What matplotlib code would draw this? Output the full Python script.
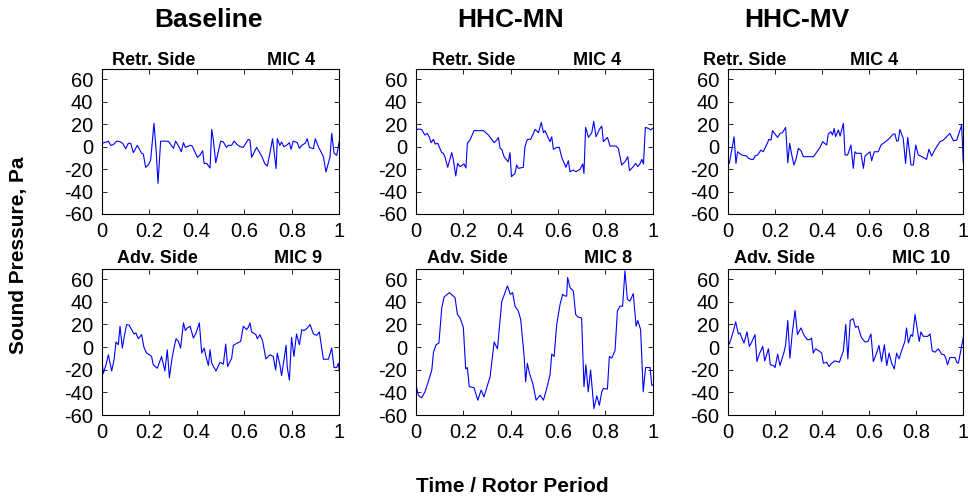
import matplotlib
matplotlib.use("Agg")
import matplotlib.pyplot as plt

plt.rcParams['font.family'] = ['Liberation Sans', 'DejaVu Sans']
plt.rcParams['axes.unicode_minus'] = False

# ---------------- data ----------------
column_titles = ["Baseline", "HHC-MN", "HHC-MV"]
side_labels = ["Retr. Side", "Adv. Side"]
mic_labels = [["MIC 4", "MIC 4", "MIC 4"], ["MIC 9", "MIC 8", "MIC 10"]]
x_ticks = [0, 0.2, 0.4, 0.6, 0.8, 1]
x_tick_labels = ["0", "0.2", "0.4", "0.6", "0.8", "1"]
y_ticks = [-60, -40, -20, 0, 20, 40, 60]
y_tick_labels = ["-60", "-40", "-20", "0", "20", "40", "60"]

base_retr_t = [0.000, 0.021, 0.028, 0.038, 0.049, 0.063, 0.077, 0.088, 0.101, 0.112, 0.122, 0.133,
               0.150, 0.168, 0.175, 0.185, 0.196, 0.206, 0.220, 0.229, 0.237, 0.248, 0.259, 0.281,
               0.302, 0.311, 0.325, 0.335, 0.344, 0.352, 0.372, 0.381, 0.403, 0.414, 0.425, 0.431,
               0.442, 0.456, 0.463, 0.470, 0.480, 0.501, 0.512, 0.525, 0.533, 0.547, 0.557, 0.568,
               0.582, 0.596, 0.617, 0.624, 0.631, 0.652, 0.673, 0.687, 0.697, 0.708, 0.719, 0.734,
               0.739, 0.750, 0.757, 0.767, 0.778, 0.790, 0.797, 0.806, 0.823, 0.832, 0.842, 0.856,
               0.865, 0.874, 0.891, 0.899, 0.912, 0.933, 0.944, 0.961, 0.968, 0.978, 0.989, 1.000]
base_retr_p = [3.0, 4.2, 5.0, 1.2, 1.8, 5.0, 4.5, 3.0, -1.8, 3.0, 3.0, -5.3,
               1.2, -5.9, -6.5, -18.4, -16.3, -11.9, 20.8, -3.0, -32.7, 4.8, 5.0, 4.8,
               -1.5, 5.0, 0.0, -4.5, 3.6, -0.6, 1.2, 0.6, -9.5, -7.4, -3.6, -14.9,
               -14.9, -19.0, 15.4, 5.9, -14.3, 5.0, 4.2, -0.6, 1.2, 1.2, 5.0, 2.4,
               0.0, -0.6, 6.5, 5.9, -9.5, -0.6, -8.3, -15.4, -17.2, -5.9, 7.1, -19.6,
               7.1, 1.2, 4.2, 0.0, 1.2, 3.6, -2.4, 5.0, 3.6, -1.5, 1.2, 3.0,
               7.1, -0.6, -1.8, 7.1, 0.0, -8.9, -22.6, -8.9, 11.9, -5.9, -7.7, 4.8]

mn_retr_t = [0.000, 0.011, 0.025, 0.039, 0.049, 0.058, 0.065, 0.075, 0.082, 0.093, 0.110, 0.117,
             0.124, 0.135, 0.152, 0.159, 0.169, 0.177, 0.187, 0.204, 0.212, 0.218, 0.229, 0.246,
             0.286, 0.307, 0.331, 0.342, 0.349, 0.356, 0.363, 0.373, 0.384, 0.390, 0.398, 0.404,
             0.419, 0.426, 0.433, 0.454, 0.461, 0.471, 0.485, 0.504, 0.518, 0.530, 0.539, 0.546,
             0.560, 0.567, 0.574, 0.581, 0.595, 0.606, 0.616, 0.634, 0.644, 0.651, 0.665, 0.676,
             0.693, 0.705, 0.710, 0.717, 0.729, 0.743, 0.751, 0.761, 0.775, 0.785, 0.792, 0.809,
             0.820, 0.845, 0.855, 0.869, 0.883, 0.895, 0.902, 0.918, 0.928, 0.937, 0.947, 0.954,
             0.961, 0.969, 0.982, 0.992, 1.000]
mn_retr_p = [14.9, 15.7, 15.4, 10.4, 11.9, 8.3, 3.6, 6.5, 2.4, 3.0, -5.3, -5.9,
             -9.5, -18.4, -5.3, -11.9, -26.1, -14.9, -17.8, -15.4, -19.0, 3.0, 5.9, 14.3,
             14.3, 10.4, 3.6, 5.9, 8.3, -1.5, -2.4, -8.9, -11.9, -13.4, -5.3, -26.7,
             -23.8, -16.3, -19.3, -18.4, 0.0, 6.5, 6.5, 15.4, 12.5, 21.7, 12.5, 14.3,
             7.4, 4.5, 8.9, -2.4, -0.6, -0.6, -9.5, -18.4, -12.5, -22.3, -20.8, -22.3,
             -20.2, -15.4, -23.8, 17.2, 8.3, 12.5, 22.6, 8.9, 15.4, 18.4, 4.5, 8.3,
             0.6, 0.6, -1.5, -16.3, -13.4, -8.9, -21.4, -17.8, -14.9, -17.8, -14.9, -11.3,
             -15.4, 17.2, 16.3, 14.9, 16.3]

mv_retr_t = [0.000, 0.007, 0.017, 0.027, 0.035, 0.042, 0.059, 0.081, 0.088, 0.099, 0.109, 0.116,
             0.127, 0.141, 0.151, 0.165, 0.175, 0.184, 0.190, 0.201, 0.212, 0.222, 0.232, 0.246,
             0.255, 0.263, 0.272, 0.281, 0.289, 0.300, 0.311, 0.321, 0.364, 0.382, 0.392, 0.403,
             0.420, 0.427, 0.438, 0.445, 0.452, 0.458, 0.470, 0.477, 0.491, 0.498, 0.509, 0.523,
             0.533, 0.540, 0.547, 0.566, 0.576, 0.583, 0.604, 0.611, 0.622, 0.639, 0.651, 0.682,
             0.703, 0.710, 0.717, 0.724, 0.731, 0.745, 0.755, 0.764, 0.769, 0.778, 0.788, 0.798,
             0.809, 0.830, 0.844, 0.854, 0.866, 0.880, 0.901, 0.915, 0.929, 0.943, 0.958, 0.972,
             0.993, 1.000]
mv_retr_p = [-10.4, -14.9, -3.0, 8.9, -14.9, -4.5, -7.4, -8.3, -10.4, -11.3, -11.3, -8.3,
             -7.4, -3.0, -4.5, 1.5, 6.5, 5.9, 14.3, 11.3, 8.3, 11.9, 12.5, 17.2,
             -14.3, 3.0, -7.4, -16.3, -11.9, -1.5, -3.6, -8.9, -8.9, -3.6, -0.6, 4.5,
             1.5, 11.3, 13.4, 10.4, 16.3, 8.9, 14.9, 9.5, 20.8, -7.4, -7.4, 1.5,
             -19.3, -4.5, -5.9, -5.9, -19.3, -8.3, -4.5, -12.5, -4.5, -4.5, 1.5, 6.5,
             11.3, 11.3, 5.0, 5.3, 15.4, 7.4, -14.9, 8.3, 0.0, -16.3, -16.3, 1.5,
             -7.4, -9.5, -11.3, -2.4, -8.3, -2.4, 4.5, 5.9, 8.9, 11.9, 5.3, 5.9,
             19.3, -14.3]

base_adv_t = [0.000, 0.007, 0.018, 0.028, 0.042, 0.052, 0.060, 0.070, 0.077, 0.087, 0.095, 0.105,
              0.116, 0.126, 0.136, 0.144, 0.154, 0.168, 0.178, 0.189, 0.201, 0.210, 0.217, 0.234,
              0.252, 0.266, 0.276, 0.285, 0.295, 0.304, 0.313, 0.323, 0.332, 0.344, 0.352, 0.360,
              0.372, 0.386, 0.397, 0.411, 0.421, 0.431, 0.439, 0.449, 0.456, 0.463, 0.481, 0.498,
              0.512, 0.522, 0.530, 0.547, 0.554, 0.571, 0.585, 0.596, 0.610, 0.617, 0.624, 0.631,
              0.649, 0.655, 0.666, 0.677, 0.691, 0.708, 0.722, 0.732, 0.739, 0.750, 0.757, 0.767,
              0.776, 0.781, 0.790, 0.799, 0.809, 0.820, 0.832, 0.842, 0.851, 0.863, 0.877, 0.891,
              0.905, 0.916, 0.933, 0.954, 0.968, 0.978, 0.989, 0.996, 1.000]
base_adv_p = [-9.8, -23.2, -15.7, -6.8, -21.1, -11.3, 4.5, 2.1, 18.4, -0.9, 9.5, 19.9,
              19.3, 15.4, 11.6, 12.5, 7.4, 11.0, -0.3, -5.3, -6.8, -8.3, -15.7, -18.7,
              -8.3, -21.1, -2.4, -27.0, -11.3, -0.9, 7.4, 5.0, -0.9, 21.4, 14.6, 16.9,
              18.4, 8.0, 12.5, 21.4, -5.3, -0.9, -8.3, -16.3, -2.4, -14.3, -21.1, -13.4,
              -15.1, 2.7, -17.2, -9.8, 1.5, 3.6, 5.0, 18.4, 15.4, 17.5, 21.4, 13.4,
              11.0, 7.4, 11.0, 5.6, -10.4, -6.8, -8.3, -20.2, -5.3, -15.7, -25.2, -11.3,
              1.5, -18.1, -29.1, 8.6, -8.3, 11.6, 2.1, 15.4, 14.6, 16.3, 19.9, 11.6,
              10.4, 13.4, -10.7, -10.7, -0.9, -18.1, -18.1, -14.3, -21.1]

mn_adv_t = [0.000, 0.011, 0.025, 0.039, 0.053, 0.068, 0.075, 0.086, 0.098, 0.110, 0.120, 0.142,
            0.166, 0.176, 0.187, 0.201, 0.211, 0.218, 0.226, 0.246, 0.262, 0.276, 0.288, 0.314,
            0.331, 0.345, 0.363, 0.387, 0.399, 0.409, 0.419, 0.433, 0.443, 0.457, 0.464, 0.471,
            0.480, 0.494, 0.508, 0.525, 0.539, 0.553, 0.567, 0.574, 0.584, 0.595, 0.609, 0.620,
            0.630, 0.637, 0.641, 0.651, 0.665, 0.675, 0.686, 0.700, 0.710, 0.718, 0.728, 0.738,
            0.752, 0.764, 0.775, 0.785, 0.792, 0.809, 0.817, 0.827, 0.841, 0.851, 0.862, 0.873,
            0.883, 0.893, 0.904, 0.918, 0.930, 0.937, 0.949, 0.960, 0.970, 0.989, 0.996, 1.000]
mn_adv_p = [-32.1, -42.5, -44.8, -39.5, -30.6, -20.2, -4.5, 2.1, 3.6, 34.7, 44.3, 48.1,
            43.7, 28.8, 25.8, 17.5, -19.3, -18.1, -35.0, -35.9, -46.9, -38.0, -44.0, -26.1,
            4.5, -1.5, 40.1, 54.1, 46.6, 48.1, 36.2, 31.8, 24.4, -6.8, -30.6, -14.3,
            -23.2, -32.1, -46.9, -42.5, -46.9, -36.5, -24.1, -6.2, -8.3, 19.9, 37.7, 46.6,
            45.1, 45.1, 61.5, 52.6, 49.6, 28.8, 26.4, 25.8, -35.0, -15.7, -39.5, -20.2,
            -54.4, -43.1, -51.4, -39.5, -36.5, -37.1, -8.3, -9.8, -3.3, 31.8, 36.2, 36.2,
            67.4, 42.2, 40.7, 47.2, 18.4, 23.5, 15.4, -39.5, -18.1, -18.1, -33.6, -33.6]

mv_adv_t = [0.000, 0.007, 0.024, 0.034, 0.045, 0.052, 0.059, 0.069, 0.082, 0.092, 0.103, 0.116,
            0.124, 0.134, 0.149, 0.157, 0.173, 0.181, 0.195, 0.201, 0.212, 0.222, 0.239, 0.246,
            0.255, 0.264, 0.274, 0.286, 0.296, 0.311, 0.324, 0.338, 0.348, 0.356, 0.363, 0.373,
            0.387, 0.399, 0.406, 0.420, 0.430, 0.441, 0.455, 0.474, 0.491, 0.501, 0.510, 0.520,
            0.532, 0.542, 0.553, 0.567, 0.583, 0.595, 0.608, 0.618, 0.632, 0.642, 0.653, 0.665,
            0.675, 0.685, 0.696, 0.707, 0.717, 0.727, 0.738, 0.752, 0.759, 0.767, 0.778, 0.785,
            0.795, 0.806, 0.813, 0.820, 0.830, 0.849, 0.859, 0.868, 0.880, 0.894, 0.908, 0.919,
            0.926, 0.933, 0.943, 0.965, 0.972, 0.979, 1.000]
mv_adv_p = [6.5, 2.7, 14.0, 22.3, 11.6, 12.5, 8.6, 3.6, 13.4, 0.6, 5.0, 11.0,
            -12.8, -6.2, 0.6, -12.2, -1.5, -15.7, -16.3, -18.1, -6.2, -16.3, -4.5, 2.1,
            23.5, -9.8, 12.5, 32.4, 11.0, 16.9, 10.4, 6.5, 6.5, 8.0, -5.3, -1.5,
            -3.3, -5.3, -14.3, -13.4, -17.2, -14.3, -12.2, -13.4, -3.3, 19.9, -10.4, 23.5,
            25.2, 17.5, 18.4, 8.6, 4.5, 5.0, 11.6, -12.8, -5.3, 1.5, -12.8, 2.1,
            -16.3, -5.3, -14.3, -19.3, -5.3, -10.4, -3.3, 5.0, 16.9, 3.6, 11.0, 9.5,
            28.8, 14.0, 5.0, 13.4, 9.5, 9.5, 11.6, -3.3, -4.5, -1.5, -6.2, -6.8,
            -9.8, -15.7, -9.2, -9.2, -13.4, -14.3, 8.6]

series = [[(base_retr_t, base_retr_p), (mn_retr_t, mn_retr_p), (mv_retr_t, mv_retr_p)],
          [(base_adv_t, base_adv_p), (mn_adv_t, mn_adv_p), (mv_adv_t, mv_adv_p)]]

# ---------------- layout ----------------
W, H = 968, 497
fig = plt.figure(figsize=(W / 100, H / 100), dpi=100)

col_left = [101.7, 415.7, 727.7]
col_w = [237.6, 237.0, 235.6]
row_top = [69.3, 269.0]
row_h = [144.7, 146.0]
title_x = [209, 510.5, 796.7]
side_x = [[111.7, 431.7, 703.3], [116.7, 426.7, 734.3]]
mic_x = [[266.7, 573.3, 850.0], [274.3, 584.3, 892.3]]
sub_base = [65.0, 263.3]

for r in range(2):
    for c in range(3):
        ax = fig.add_axes([col_left[c] / W, 1 - (row_top[r] + row_h[r]) / H,
                           col_w[c] / W, row_h[r] / H])
        t, p = series[r][c]
        ax.plot(t, p, color='#0000ff', lw=0.8)
        ax.set_xlim(0, 1)
        ax.set_ylim(-60, 69)
        ax.set_xticks(x_ticks)
        ax.set_xticklabels(x_tick_labels)
        ax.set_yticks(y_ticks)
        ax.set_yticklabels(y_tick_labels)
        ax.tick_params(direction='in', top=True, right=True, length=3.5, width=0.6,
                       labelsize=14.5, pad=6)
        for s in ax.spines.values():
            s.set_linewidth(0.8)
        fig.text(side_x[r][c] / W, 1 - sub_base[r] / H, side_labels[r],
                 fontsize=13, fontweight='bold', ha='left', va='baseline')
        fig.text(mic_x[r][c] / W, 1 - sub_base[r] / H, mic_labels[r][c],
                 fontsize=13, fontweight='bold', ha='left', va='baseline')

for c in range(3):
    fig.text(title_x[c] / W, 1 - 27 / H, column_titles[c], fontsize=19,
             fontweight='bold', ha='center', va='baseline')

fig.text(18.7 / W, 1 - 255 / H, "Sound Pressure, Pa", rotation=90, fontsize=15,
         fontweight='bold', ha='center', va='center')
fig.text(512.5 / W, 1 - 491.7 / H, "Time / Rotor Period", fontsize=15,
         fontweight='bold', ha='center', va='baseline')

fig.savefig("out.png", dpi=100)
